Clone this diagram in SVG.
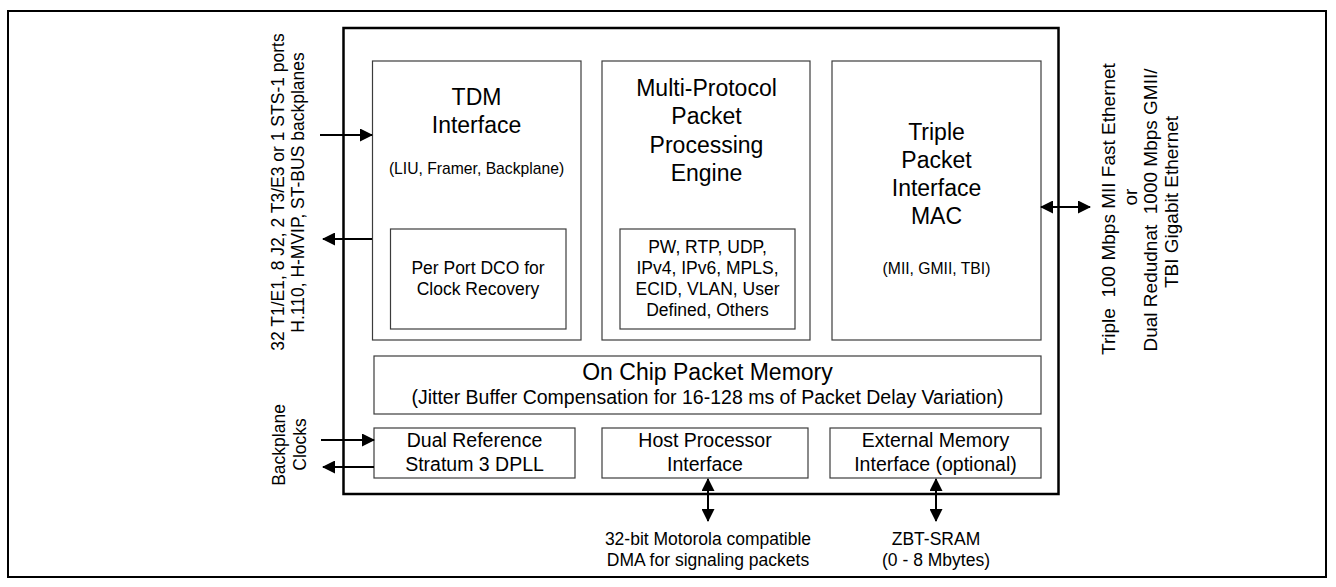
<svg xmlns="http://www.w3.org/2000/svg" width="1336" height="587" viewBox="0 0 1336 587">
<style>
text{font-family:"Liberation Sans",Arial,sans-serif;fill:#000}
.box{fill:#fff;stroke:#3c3c3c;stroke-width:1.2}
.big{font-size:23px;text-anchor:middle}
.mid{font-size:19.5px;text-anchor:middle}
.sm{font-size:17.5px;text-anchor:middle}
.xs{font-size:15.7px;text-anchor:middle}
.rt{font-size:19px;text-anchor:middle}
.conn{stroke:#000;stroke-width:2;fill:none}
</style>
<defs>
<marker id="ah" viewBox="0 0 13 13" markerWidth="13" markerHeight="13" markerUnits="userSpaceOnUse" refX="12" refY="6.5" orient="auto-start-reverse">
<path d="M0,0 L13,6.5 L0,13 z" fill="#000"/>
</marker>
</defs>
<rect width="1336" height="587" fill="#fff"/>
<rect id="frame" x="8" y="11" width="1318" height="566" fill="none" stroke="#000" stroke-width="2"/>
<rect id="chip" x="343.5" y="28" width="715" height="466" fill="#fff" stroke="#000" stroke-width="2.5"/>

<g id="tdm">
<rect class="box" x="372.5" y="61" width="208.5" height="279"/>
<text class="big" x="476.5" y="105">TDM</text>
<text class="big" x="476.5" y="133">Interface</text>
<text class="xs" x="476.5" y="174">(LIU, Framer, Backplane)</text>
</g>
<g id="dco">
<rect class="box" x="390.5" y="229" width="175.5" height="100"/>
<text class="sm" x="478" y="274">Per Port DCO for</text>
<text class="sm" x="478" y="295">Clock Recovery</text>
</g>
<g id="mppe">
<rect class="box" x="602" y="61" width="208" height="279"/>
<text class="big" x="706.5" y="95.5">Multi-Protocol</text>
<text class="big" x="706.5" y="124">Packet</text>
<text class="big" x="706.5" y="152.5">Processing</text>
<text class="big" x="706.5" y="181">Engine</text>
</g>
<g id="protocols">
<rect class="box" x="620" y="229" width="175" height="100"/>
<text class="sm" x="707.5" y="253">PW, RTP, UDP,</text>
<text class="sm" x="707.5" y="274">IPv4, IPv6, MPLS,</text>
<text class="sm" x="707.5" y="295">ECID, VLAN, User</text>
<text class="sm" x="707.5" y="316">Defined, Others</text>
</g>
<g id="mac">
<rect class="box" x="832" y="61" width="209" height="279"/>
<text class="big" x="936.5" y="140">Triple</text>
<text class="big" x="936.5" y="168">Packet</text>
<text class="big" x="936.5" y="196">Interface</text>
<text class="big" x="936.5" y="224">MAC</text>
<text class="xs" x="936.5" y="274">(MII, GMII, TBI)</text>
</g>
<g id="memory">
<rect class="box" x="374" y="356" width="667" height="58"/>
<text class="big" x="707.5" y="380">On Chip Packet Memory</text>
<text class="mid" x="707.5" y="404">(Jitter Buffer Compensation for 16-128 ms of Packet Delay Variation)</text>
</g>
<g id="dpll">
<rect class="box" x="374" y="428" width="201" height="50"/>
<text class="mid" x="474.5" y="447">Dual Reference</text>
<text class="mid" x="474.5" y="471">Stratum 3 DPLL</text>
</g>
<g id="host">
<rect class="box" x="602" y="428" width="206" height="50"/>
<text class="mid" x="705" y="447">Host Processor</text>
<text class="mid" x="705" y="471">Interface</text>
</g>
<g id="extmem">
<rect class="box" x="830" y="428" width="211" height="50"/>
<text class="mid" x="935.5" y="447">External Memory</text>
<text class="mid" x="935.5" y="471">Interface (optional)</text>
</g>

<g id="connectors">
<line class="conn" x1="320" y1="135" x2="372" y2="135" marker-end="url(#ah)"/>
<line class="conn" x1="372" y1="239" x2="323" y2="239" marker-end="url(#ah)"/>
<line class="conn" x1="321" y1="440" x2="374" y2="440" marker-end="url(#ah)"/>
<line class="conn" x1="374" y1="467" x2="323" y2="467" marker-end="url(#ah)"/>
<line class="conn" x1="1041" y1="207" x2="1090" y2="207" marker-start="url(#ah)" marker-end="url(#ah)"/>
<line class="conn" x1="708" y1="479" x2="708" y2="521" marker-start="url(#ah)" marker-end="url(#ah)"/>
<line class="conn" x1="936" y1="479" x2="936" y2="521" marker-start="url(#ah)" marker-end="url(#ah)"/>
</g>

<g id="labels">
<text class="sm" transform="translate(284,192) rotate(-90)">32 T1/E1, 8 J2, 2 T3/E3 or 1 STS-1 ports</text>
<text class="sm" transform="translate(304,192.5) rotate(-90)">H.110, H-MVIP, ST-BUS backplanes</text>
<text class="sm" transform="translate(285,445) rotate(-90)">Backplane</text>
<text class="sm" transform="translate(306,444.5) rotate(-90)">Clocks</text>
<text class="rt" transform="translate(1115,209) rotate(-90)" xml:space="preserve">Triple  100 Mbps MII Fast Ethernet</text>
<text class="rt" transform="translate(1137,197) rotate(-90)">or</text>
<text class="rt" transform="translate(1157,210) rotate(-90)" xml:space="preserve">Dual Redudnat  1000 Mbps GMII/</text>
<text class="rt" transform="translate(1178,202) rotate(-90)">TBI Gigabit Ethernet</text>
<text class="sm" x="708" y="545">32-bit Motorola compatible</text>
<text class="sm" x="708" y="566">DMA for signaling packets</text>
<text class="sm" x="936" y="545">ZBT-SRAM</text>
<text class="sm" x="936" y="566">(0 - 8 Mbytes)</text>
</g>
</svg>
